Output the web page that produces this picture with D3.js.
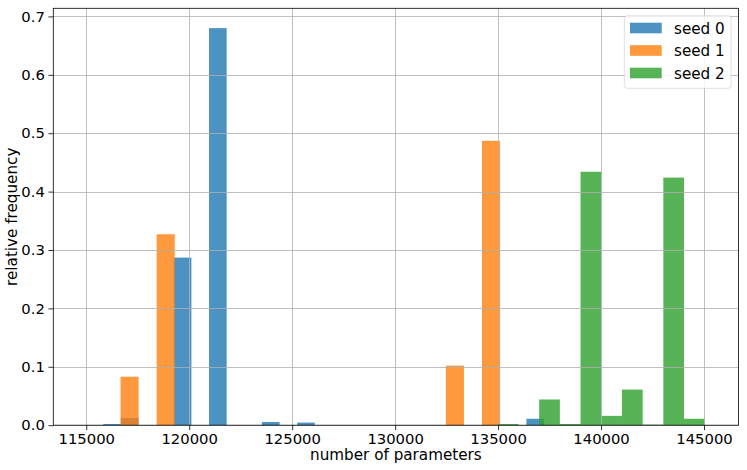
<!DOCTYPE html>
<html>
<head>
<meta charset="utf-8">
<script src="https://cdn.jsdelivr.net/npm/d3@7"></script>
<style>
  html, body { margin: 0; padding: 0; background: #fff; }
  svg { display: block; font-family: "DejaVu Sans", sans-serif; }
</style>
</head>
<body>
<svg id="chart" width="747" height="470"></svg>
<script>
// ---- data ----
const seriesNames = ["seed 0", "seed 1", "seed 2"];

// seed 0 : 25 bins starting at 115825, width ~856
const seed0Start = 115825;
const seed0Width = 856.3;
const seed0Values = [0.002, 0.0125, 0, 0, 0.287, 0, 0.680, 0, 0, 0.0055, 0, 0.0045,
                     0, 0, 0, 0, 0, 0, 0, 0, 0, 0, 0, 0, 0.011];

// seed 1 : bins starting at 116665, width ~878
const seed1Start = 116665;
const seed1Width = 877.7;
const seed1Values = [0.083, 0, 0.327, 0, 0, 0, 0, 0, 0, 0, 0, 0, 0, 0, 0, 0, 0, 0,
                     0.102, 0, 0.487];

// seed 2 : 10 bins starting at 134985, width ~1005
const seed2Start = 134985;
const seed2Width = 1004.9;
const seed2Values = [0.002, 0, 0.044, 0.002, 0.434, 0.016, 0.061, 0.001, 0.424, 0.011];

const xTicks = [115000, 120000, 125000, 130000, 135000, 140000, 145000];
const yTicks = [0, 0.1, 0.2, 0.3, 0.4, 0.5, 0.6, 0.7];
const xDomain = [113400, 146675];
const yDomain = [0, 0.7139];
const xLabel = "number of parameters";
const yLabel = "relative frequency";

// ---- layout ----
const W = 747, H = 470;
const plot = { left: 53.3, right: 738.5, top: 8.3, bottom: 425.2 };
const colors = ["#1f77b4", "#ff7f0e", "#2ca02c"];
const tickFont = 14.8;
const labelFont = 15.2;

const svg = d3.select("#chart");
const x = d3.scaleLinear().domain(xDomain).range([plot.left, plot.right]);
const y = d3.scaleLinear().domain(yDomain).range([plot.bottom, plot.top]);

const series = [
  { start: seed0Start, width: seed0Width, values: seed0Values },
  { start: seed1Start, width: seed1Width, values: seed1Values },
  { start: seed2Start, width: seed2Width, values: seed2Values }
];

// bars
series.forEach((s, si) => {
  const bins = s.values.map((v, i) => ({ x0: s.start + i * s.width, x1: s.start + (i + 1) * s.width, v }));
  svg.append("g")
    .selectAll("rect")
    .data(bins.filter(b => b.v > 0))
    .join("rect")
    .attr("x", b => x(b.x0))
    .attr("width", b => x(b.x1) - x(b.x0))
    .attr("y", b => y(b.v))
    .attr("height", b => y(0) - y(b.v))
    .attr("fill", colors[si])
    .attr("fill-opacity", 0.8);
});

// grid (drawn above bars, like matplotlib)
const grid = svg.append("g");
grid.selectAll("line.vx").data(xTicks).join("line")
  .attr("x1", d => Math.round(x(d)) + 0.5).attr("x2", d => Math.round(x(d)) + 0.5)
  .attr("y1", plot.top).attr("y2", plot.bottom)
  .attr("stroke", "#b0b0b0").attr("stroke-width", 0.8);
grid.selectAll("line.hy").data(yTicks).join("line")
  .attr("y1", d => Math.round(y(d)) + 0.5).attr("y2", d => Math.round(y(d)) + 0.5)
  .attr("x1", plot.left).attr("x2", plot.right)
  .attr("stroke", "#b0b0b0").attr("stroke-width", 0.8);

// axes
const xAxis = d3.axisBottom(x).tickValues(xTicks).tickFormat(d3.format("d"))
  .tickSize(4.9).tickPadding(3.5);
const gx = svg.append("g").attr("transform", `translate(0,${plot.bottom})`).call(xAxis);
const yAxis = d3.axisLeft(y).tickValues(yTicks).tickFormat(d => d === 0 ? "0.0" : d3.format(".1f")(d))
  .tickSize(4.9).tickPadding(3.5);
const gy = svg.append("g").attr("transform", `translate(${plot.left},0)`).call(yAxis);
[gx, gy].forEach(g => {
  g.select(".domain").remove();
  g.selectAll(".tick line").attr("stroke", "#000").attr("stroke-width", 0.8);
  g.selectAll(".tick text").attr("fill", "#000")
    .style("font-size", tickFont + "px").style("font-family", "DejaVu Sans");
});

// frame
svg.append("rect")
  .attr("x", plot.left).attr("y", plot.top)
  .attr("width", plot.right - plot.left).attr("height", plot.bottom - plot.top)
  .attr("fill", "none").attr("stroke", "#000").attr("stroke-width", 0.8);

// axis labels
svg.append("text")
  .attr("x", (plot.left + plot.right) / 2).attr("y", 459.5)
  .attr("text-anchor", "middle").style("font-size", labelFont + "px")
  .text(xLabel);
svg.append("text")
  .attr("transform", `translate(16.5,${(plot.top + plot.bottom) / 2}) rotate(-90)`)
  .attr("text-anchor", "middle").style("font-size", labelFont + "px")
  .text(yLabel);

// legend
const lg = svg.append("g");
lg.append("rect")
  .attr("x", 624.3).attr("y", 15.7).attr("width", 106.7).attr("height", 72.6)
  .attr("rx", 3).attr("ry", 3)
  .attr("fill", "#fff").attr("fill-opacity", 0.8)
  .attr("stroke", "#cccccc").attr("stroke-opacity", 0.8).attr("stroke-width", 0.8);
seriesNames.forEach((name, i) => {
  const cy = 28 + i * 22.5;
  lg.append("rect")
    .attr("x", 630).attr("y", cy - 5.3).attr("width", 31.7).attr("height", 10.6)
    .attr("fill", colors[i]).attr("fill-opacity", 0.8);
  lg.append("text")
    .attr("x", 674).attr("y", cy + 5.7)
    .style("font-size", labelFont + "px")
    .text(name);
});
</script>
</body>
</html>
